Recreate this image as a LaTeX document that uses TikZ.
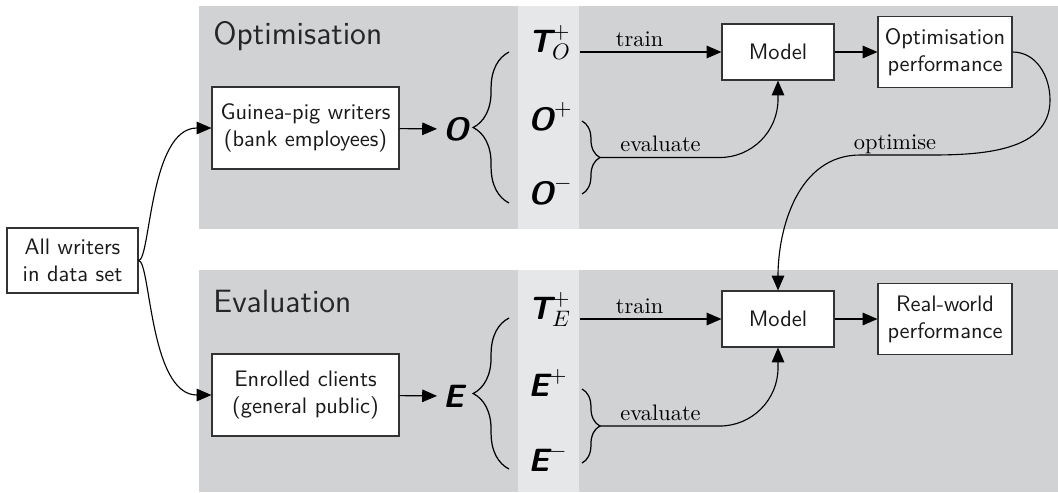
\documentclass[tikz,border=0pt]{standalone}
\usepackage{fontspec}
\usetikzlibrary{arrows.meta,decorations.pathreplacing}
\definecolor{panel}{RGB}{209,210,212}
\definecolor{colband}{RGB}{230,231,233}
\begin{document}
\begin{tikzpicture}[x=0.4464pt,y=0.4464pt,
  box/.style={draw=black!80, fill=white, line width=0.5pt, font=\sffamily, align=center, inner sep=2pt, text=black!90},
  title/.style={font=\sffamily\Large, anchor=base west, inner sep=0pt, text=black!85},
  setsym/.style={font=\Large, anchor=base west, inner xsep=4pt, inner ysep=0pt},
  setname/.style={font=\Large, anchor=west, inner xsep=2.5pt, inner ysep=0pt},
  lbl/.style={font=\normalsize, inner sep=0pt, anchor=base, yshift=2.5pt},
  bigbrace/.style={decorate, decoration={brace, amplitude=16pt}, line width=0.55pt},
  smallbrace/.style={decorate, decoration={brace, amplitude=8pt}, line width=0.55pt},
  link/.style={-{Triangle[length=6.6pt,width=5.6pt]}, line width=0.5pt}
]
\useasboundingbox (0,0) rectangle (1058,-492);
% panels
\fill[panel] (199,-6) rectangle (1058,-229);
\fill[colband] (518,-6) rectangle (579,-229);
\fill[panel] (199,-270) rectangle (1058,-492);
\fill[colband] (518,-270) rectangle (579,-492);

% left
\node[box, minimum width=58.5pt, minimum height=29pt] (all) at (72.5,-260.5) {All writers\\in data set};

% ---- Optimisation panel
\node[title] (ot) at (213,-44) {Optimisation};
\node[box, minimum width=83.5pt, minimum height=36.6pt] (gp) at (305.5,-128) {Guinea-pig writers\\(bank employees)};
\node[setname] (o) at (437,-129) {$\textsf{\bfseries\itshape O}$};
\draw[bigbrace] (509,-203) -- (509,-52);
\node[setsym] (to) at (519,-52) {$\textsf{\bfseries\itshape T}^{+}_{O}$};
\node[setsym] (op) at (519,-130) {$\textsf{\bfseries\itshape O}^{+}$};
\node[setsym] (om) at (519,-204) {$\textsf{\bfseries\itshape O}^{-}$};
\draw[smallbrace] (582,-121) -- (582,-194);
\coordinate (oev) at (600,-157.5);
\node[box, minimum width=50pt, minimum height=25pt] (m1) at (778,-52) {Model};
\node[box, minimum width=59.8pt, minimum height=31.7pt] (operf) at (945,-52) {Optimisation\\performance};

% ---- Evaluation panel
\node[title] (et) at (213,-312) {Evaluation};
\node[box, minimum width=83.5pt, minimum height=36.6pt] (en) at (305.5,-395) {Enrolled clients\\(general public)};
\node[setname] (e) at (437,-396) {$\textsf{\bfseries\itshape E}$};
\draw[bigbrace] (509,-469) -- (509,-318);
\node[setsym] (te) at (519,-319) {$\textsf{\bfseries\itshape T}^{+}_{E}$};
\node[setsym] (ep) at (519,-396) {$\textsf{\bfseries\itshape E}^{+}$};
\node[setsym] (em) at (519,-471) {$\textsf{\bfseries\itshape E}^{-}$};
\draw[smallbrace] (582,-389) -- (582,-463);
\coordinate (eev) at (600,-426);
\node[box, minimum width=50pt, minimum height=25pt] (m2) at (778,-319) {Model};
\node[box, minimum width=59.8pt, minimum height=31.7pt] (rw) at (945,-319) {Real-world\\performance};

% connectors
\draw[link] (all.east) .. controls +(12,0) and +(-62,0) .. (gp.west);
\draw[link] (all.east) .. controls +(12,0) and +(-62,0) .. (en.west);
\draw[link] (gp) -- (o);
\draw[link] (en) -- (e);
\draw[link] (to.base east) -- node[lbl, pos=0.42] {train} (m1);
\draw[link] (te.base east) -- node[lbl, pos=0.42] {train} (m2);
\draw[link, rounded corners=26pt] (oev) -| node[lbl, pos=0.17] {evaluate} (m1.south);
\draw[link, rounded corners=26pt] (eev) -| node[lbl, pos=0.17] {evaluate} (m2.south);
\draw[link] (m1) -- (operf);
\draw[link] (m2) -- (rw);
\coordinate (r1) at (1050,-100);
\coordinate (oc1) at (930,-155);
\coordinate (oc2) at (860,-155);
\draw[link] (operf.east) to[out=0,in=90] (r1) to[out=-90,in=0] (oc1) -- node[lbl] {optimise} (oc2) to[out=180,in=90] (m2.north);
\end{tikzpicture}
\end{document}
